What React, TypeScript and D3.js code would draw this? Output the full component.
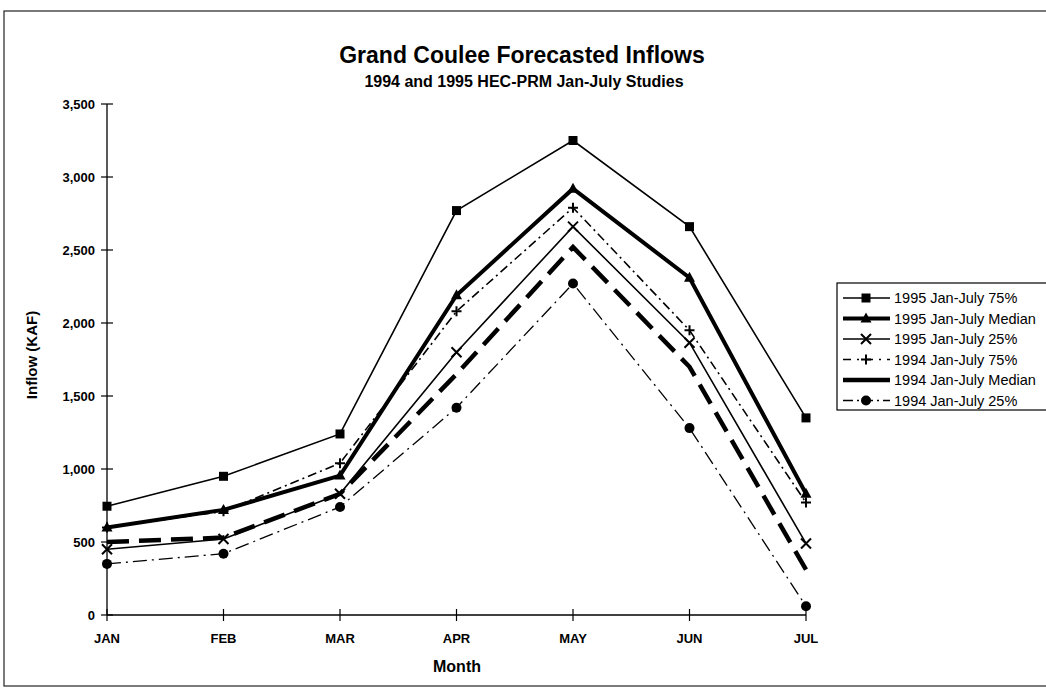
import React from "react";
import * as d3 from "d3";

const months = ["JAN", "FEB", "MAR", "APR", "MAY", "JUN", "JUL"];
const yTicks = [0, 500, 1000, 1500, 2000, 2500, 3000, 3500];

const s1995_75 = [745, 950, 1240, 2770, 3250, 2660, 1350];
const s1995_med = [600, 720, 955, 2190, 2920, 2310, 830];
const s1995_25 = [450, 520, 830, 1800, 2660, 1865, 490];
const s1994_75 = [600, 710, 1040, 2080, 2790, 1950, 770];
const s1994_med = [500, 530, 830, 1650, 2520, 1700, 310];
const s1994_25 = [350, 420, 740, 1420, 2270, 1280, 60];

const seriesNames = [
  "1995 Jan-July 75%",
  "1995 Jan-July Median",
  "1995 Jan-July 25%",
  "1994 Jan-July 75%",
  "1994 Jan-July Median",
  "1994 Jan-July 25%",
];

type Style = { width: number; dash?: string; legendDash?: string; marker: string };
const styles: Style[] = [
  { width: 1.6, marker: "square" },
  { width: 4, marker: "triangle" },
  { width: 1.6, marker: "x" },
  { width: 1.6, dash: "9,4,2,4", legendDash: "8,6,2,6", marker: "plus" },
  { width: 4.5, dash: "22,10", marker: "none" },
  { width: 1.3, dash: "14,5,2,5", legendDash: "10,4,2,4", marker: "circle" },
];

const FONT = "'Liberation Sans', Arial, Helvetica, sans-serif";

function Marker({ type, x, y }: { type: string; x: number; y: number }) {
  switch (type) {
    case "square":
      return <rect x={x - 4.5} y={y - 4.5} width={9} height={9} fill="#000" />;
    case "triangle":
      return <path d={`M${x},${y - 6}L${x + 5.5},${y + 4}L${x - 5.5},${y + 4}Z`} fill="#000" />;
    case "x":
      return (
        <path d={`M${x - 5},${y - 5}L${x + 5},${y + 5}M${x - 5},${y + 5}L${x + 5},${y - 5}`} stroke="#000" strokeWidth={2} />
      );
    case "plus":
      return (
        <path d={`M${x - 5},${y}L${x + 5},${y}M${x},${y - 5}L${x},${y + 5}`} stroke="#000" strokeWidth={2} />
      );
    case "circle":
      return <circle cx={x} cy={y} r={5} fill="#000" />;
    default:
      return null;
  }
}

export default function App() {
  const W = 1046;
  const H = 689;
  const x = d3.scalePoint<string>().domain(months).range([107, 806]);
  const y = d3.scaleLinear().domain([0, 3500]).range([615, 104]);
  const data = [s1995_75, s1995_med, s1995_25, s1994_75, s1994_med, s1994_25];
  const line = d3
    .line<number>()
    .x((_, i) => x(months[i]) as number)
    .y((d) => y(d));

  const legendX = 837;
  const legendY = 283;
  const rowH = 20.5;

  return (
    <svg
      width={W}
      height={H}
      style={{ position: "absolute", left: 0, top: 0, background: "#fff" }}
      fontFamily={FONT}
    >
      <rect x={0} y={0} width={W} height={H} fill="#fff" />
      {/* outer frame */}
      <rect x={4} y={11} width={1050} height={675} fill="none" stroke="#222" strokeWidth={1.2} />

      {/* titles */}
      <text x={522} y={63} textAnchor="middle" fontSize={23} fontWeight="bold">
        Grand Coulee Forecasted Inflows
      </text>
      <text x={524} y={87} textAnchor="middle" fontSize={16} fontWeight="bold">
        1994 and 1995 HEC-PRM Jan-July Studies
      </text>

      {/* axes */}
      <line x1={107} x2={107} y1={104} y2={615} stroke="#000" strokeWidth={1.3} />
      <line x1={107} x2={806} y1={615} y2={615} stroke="#000" strokeWidth={1.3} />
      {yTicks.map((t) => (
        <g key={t}>
          <line x1={101} x2={113} y1={y(t)} y2={y(t)} stroke="#000" strokeWidth={1.2} />
          <text x={95} y={y(t) + 4.5} textAnchor="end" fontSize={13} fontWeight="bold">
            {d3.format(",")(t)}
          </text>
        </g>
      ))}
      {months.map((m) => (
        <g key={m}>
          <line x1={x(m)} x2={x(m)} y1={609} y2={621} stroke="#000" strokeWidth={1.2} />
          <text x={x(m)} y={643} textAnchor="middle" fontSize={13} fontWeight="bold">
            {m}
          </text>
        </g>
      ))}
      <text x={457} y={672} textAnchor="middle" fontSize={16} fontWeight="bold">
        Month
      </text>
      <text
        transform={`translate(37,355) rotate(-90)`}
        textAnchor="middle"
        fontSize={15}
        fontWeight="bold"
      >
        Inflow (KAF)
      </text>

      {/* series */}
      {data.map((vals, si) => (
        <g key={si}>
          <path
            d={line(vals) || ""}
            fill="none"
            stroke="#000"
            strokeWidth={styles[si].width}
            strokeDasharray={styles[si].dash}
            strokeLinejoin="miter"
          />
          {vals.map((v, i) => (
            <Marker key={i} type={styles[si].marker} x={x(months[i]) as number} y={y(v)} />
          ))}
        </g>
      ))}

      {/* legend */}
      <rect x={legendX} y={legendY} width={230} height={127} fill="#fff" stroke="#000" strokeWidth={1.2} />
      {seriesNames.map((name, i) => {
        const cy = legendY + 15 + i * rowH;
        const st = styles[i];
        return (
          <g key={name}>
            <line
              x1={843}
              x2={890}
              y1={cy}
              y2={cy}
              stroke="#000"
              strokeWidth={st.width}
              strokeDasharray={st.legendDash}
            />
            <Marker type={st.marker} x={866} y={cy} />
            <text x={894} y={cy + 5} fontSize={14.5}>
              {name}
            </text>
          </g>
        );
      })}
    </svg>
  );
}
